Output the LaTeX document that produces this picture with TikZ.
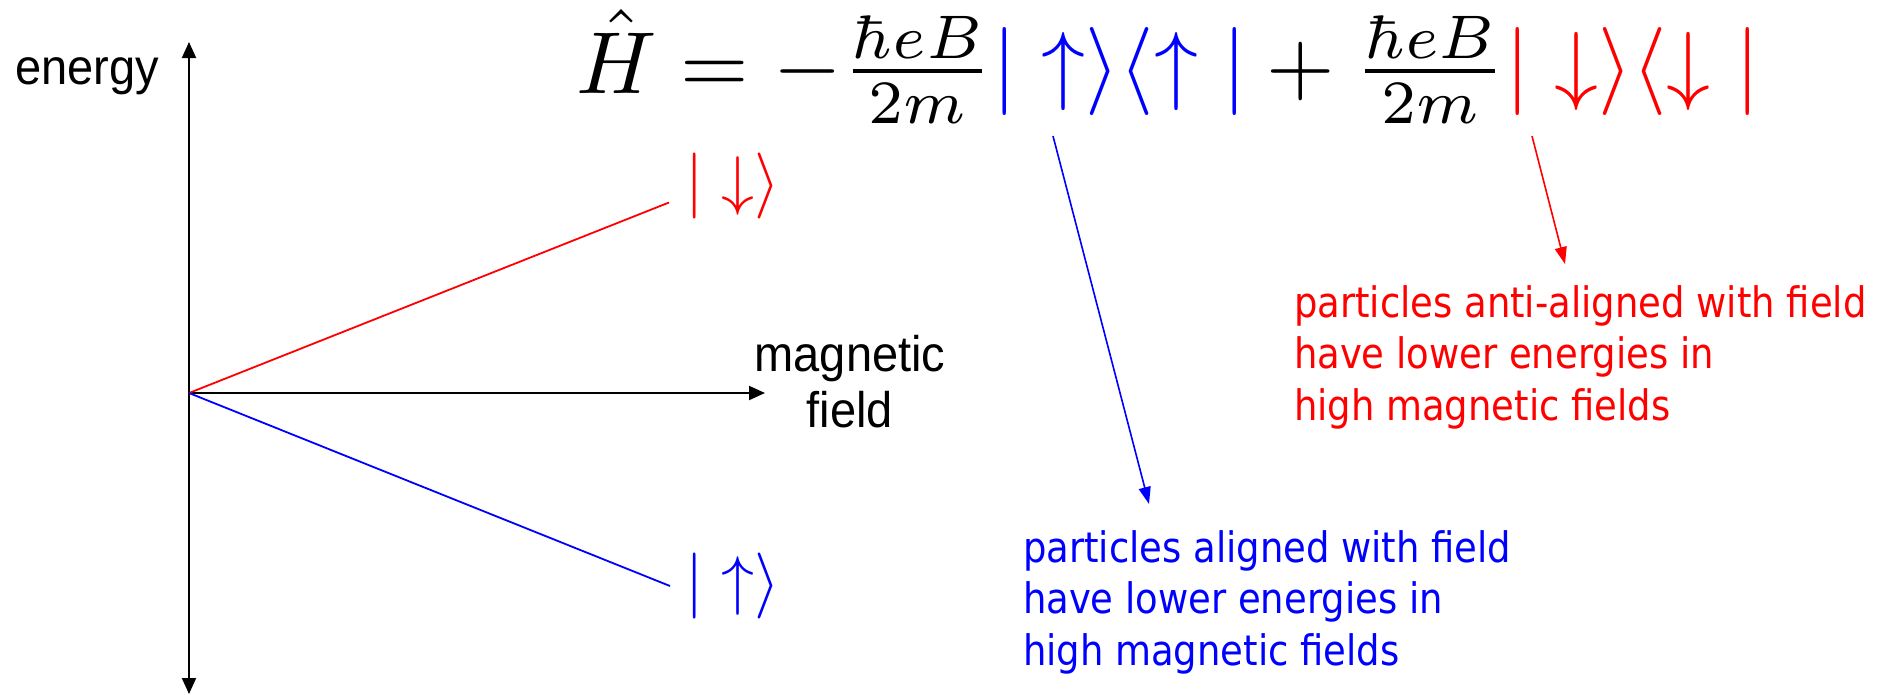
\documentclass[tikz,border=0pt]{standalone}
\usepackage[no-math]{fontspec}
\usepackage{graphicx}
\usetikzlibrary{arrows.meta}
\newfontfamily\tahfont{DejaVu Sans}[FakeStretch=0.88]
\newfontfamily\arifont{Liberation Sans}[FakeStretch=0.94]
\tikzset{
  axisline/.style={line width=2pt, black},
  stateline/.style={line width=1.8pt},
  annot/.style={line width=1.6pt, -{Triangle[length=17pt,width=12pt]}},
  plain/.style={inner sep=0pt, outer sep=0pt},
  sanslabel/.style={plain, font=\arifont\fontsize{50}{56}\selectfont},
  notetext/.style={plain, align=left, font=\tahfont\fontsize{42}{51.5}\selectfont},
}
\begin{document}
\begin{tikzpicture}[x=1pt,y=-1pt]
\useasboundingbox (0,0) rectangle (1888,694);
\fill[white] (0,0) rectangle (1888,694);

% axes
\coordinate (O) at (189,393);
\coordinate (ytop) at (189,42);
\coordinate (ybot) at (189,694);
\coordinate (xend) at (765,393);
\draw[axisline, {Triangle[length=16pt,width=14pt]}-{Triangle[length=16pt,width=14pt]}] (ybot) -- (ytop);
\draw[axisline, -{Triangle[length=16pt,width=14pt]}] (O) -- (xend);

\node[sanslabel, anchor=base west] (en) at (15,84) {energy};
% anchor base = baseline of the last line
\node[sanslabel, anchor=base, align=center] (mf) at (850,427) {magnetic\\field};

% equation
\node[plain, anchor=base west] (eq) at (576,93)
  {\scalebox{8.8}{$\hat H = -\frac{\hbar eB}{2m}{\color{blue}|\uparrow\rangle\langle\uparrow|} + \frac{\hbar eB}{2m}{\color{red}|\downarrow\rangle\langle\downarrow|}$}};

% kets at the lines
\node[plain, anchor=base west, text=red] (kdn) at (685,202.5) {\scalebox{6.6}{$|\downarrow\rangle$}};
\node[plain, anchor=base west, text=blue] (kup) at (685,602.5) {\scalebox{6.6}{$|\uparrow\rangle$}};

\draw[stateline, red] (O) -- ([xshift=-16pt]kdn.base west);
\draw[stateline, blue] (O) -- ([shift={(-15,-16.5)}]kup.base west);

% notes (anchor base = baseline of last line)
\node[notetext, anchor=base west, text=red] (rnote) at (1294,420)
  {particles anti-aligned with field\\have lower energies in\\high magnetic fields};
\node[notetext, anchor=base west, text=blue] (bnote) at (1023,665)
  {particles aligned with field\\have lower energies in\\high magnetic fields};

\coordinate (bs) at (1053,136);
\coordinate (bt) at (1149,504);
\coordinate (rs) at (1532,136);
\coordinate (rt) at (1565,264);
\draw[annot, blue] (bs) -- (bt);
\draw[annot, red] (rs) -- (rt);
\end{tikzpicture}
\end{document}
